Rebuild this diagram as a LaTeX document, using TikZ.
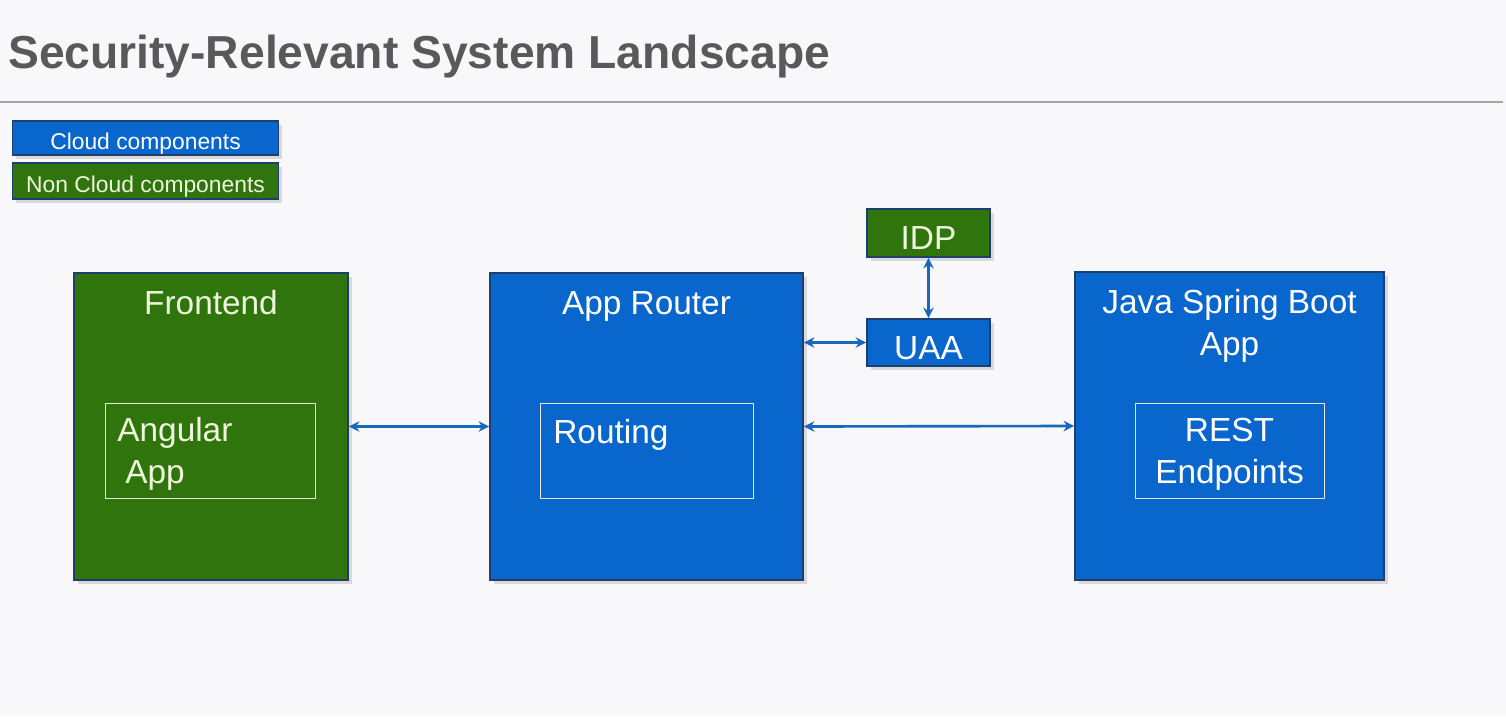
\documentclass[tikz,border=0pt]{standalone}
\usepackage{fontspec}
\setmainfont{Liberation Sans}
\usetikzlibrary{shadows,arrows.meta}

\definecolor{cloudblue}{RGB}{8,102,204}
\definecolor{noncloudgreen}{RGB}{48,116,14}
\definecolor{boxborder}{RGB}{30,62,110}
\definecolor{greentext}{RGB}{238,246,220}
\definecolor{arrowblue}{RGB}{24,104,190}
\definecolor{titlegray}{RGB}{89,89,89}
\definecolor{slidebg}{RGB}{248,247,250}

\tikzset{
  comp/.style={draw=boxborder, line width=1pt, inner sep=0pt,
    drop shadow={opacity=0.25, shadow xshift=2pt, shadow yshift=-2pt}},
  cloud/.style={comp, fill=cloudblue, text=white},
  noncloud/.style={comp, fill=noncloudgreen, text=greentext},
  inner/.style={draw=white!80!gray, line width=0.5pt, inner sep=0pt},
  big/.style={font=\fontsize{19}{23.5}\selectfont},
  legend/.style={minimum width=5.32cm, text height=0.44cm, text depth=0pt,
    font=\fontsize{13}{15}\selectfont},
  link/.style={{Stealth[length=6pt,width=6pt]}-{Stealth[length=6pt,width=6pt]}, line width=1.5pt, arrowblue}
}

\begin{document}
\begin{tikzpicture}
        % Slide
        \fill[slidebg] (0,0) rectangle (30.12,-14.32);
        \useasboundingbox (0,0) rectangle (30.12,-14.32);
        \node[anchor=base west, text=titlegray, font=\fontsize{26.3}{30}\selectfont\bfseries] (title) at (0.04,-1.36) {Security-Relevant System Landscape};
        \draw[gray!70, line width=0.7pt] (0,-2.04) -- (30.06,-2.04);

        % Legend
        \node[cloud, legend, minimum height=0.68cm] (legcloud) at (2.91,-2.76) {Cloud components};
        \node[noncloud, legend, minimum height=0.72cm] (legnoncloud) at (2.91,-3.62) {Non Cloud components};

        % Components
        \node[noncloud, minimum width=5.48cm, minimum height=6.14cm] (frontend) at (4.22,-8.53) {};
        \node[cloud, minimum width=6.26cm, minimum height=6.14cm] (approuter) at (12.93,-8.53) {};
        \node[cloud, minimum width=6.18cm, minimum height=6.16cm] (java) at (24.59,-8.52) {};
        \node[noncloud, big, minimum width=2.46cm, minimum height=0.96cm, text height=0.64cm, text depth=0pt] (idp) at (18.57,-4.66) {IDP};
        \node[cloud, big, minimum width=2.46cm, minimum height=0.94cm, text height=0.66cm, text depth=0pt] (uaa) at (18.57,-6.85) {UAA};

        % Titles
        \node[big, anchor=base, text=greentext] (frontendtitle) at (4.22,-6.28) {Frontend};
        \node[big, anchor=base, text=white] (approutertitle) at (12.93,-6.28) {App Router};
        \node[big, anchor=base, text=white, align=center] (javatitle) at (24.59,-7.10) {Java Spring Boot\\App};

        % Inner parts
        \node[inner, minimum width=4.2cm, minimum height=1.9cm] (angular) at (4.2,-9.01) {};
        \node[inner, minimum width=4.26cm, minimum height=1.9cm] (routing) at (12.93,-9.01) {};
        \node[inner, minimum width=3.78cm, minimum height=1.9cm] (rest) at (24.59,-9.01) {};
        \node[big, anchor=base west, inner sep=0pt, text=greentext, align=left] (angulartext) at (2.34,-9.66) {Angular\\\hspace{0.16cm}App};
        \node[big, anchor=base west, inner sep=0pt, text=white] (routingtext) at (11.06,-8.86) {Routing};
        \node[big, anchor=base, inner sep=0pt, text=white, align=center] (resttext) at (24.59,-9.66) {REST\\Endpoints};

        % Connections
        \draw[link] (frontend.east) -- (approuter.west);
        \draw[link] (approuter.east) -- (java.west);
        \draw[link] (uaa.west -| approuter.east) -- (uaa.west);
        \draw[link] (idp.south) -- (uaa.north);
    \end{tikzpicture}
\end{document}
